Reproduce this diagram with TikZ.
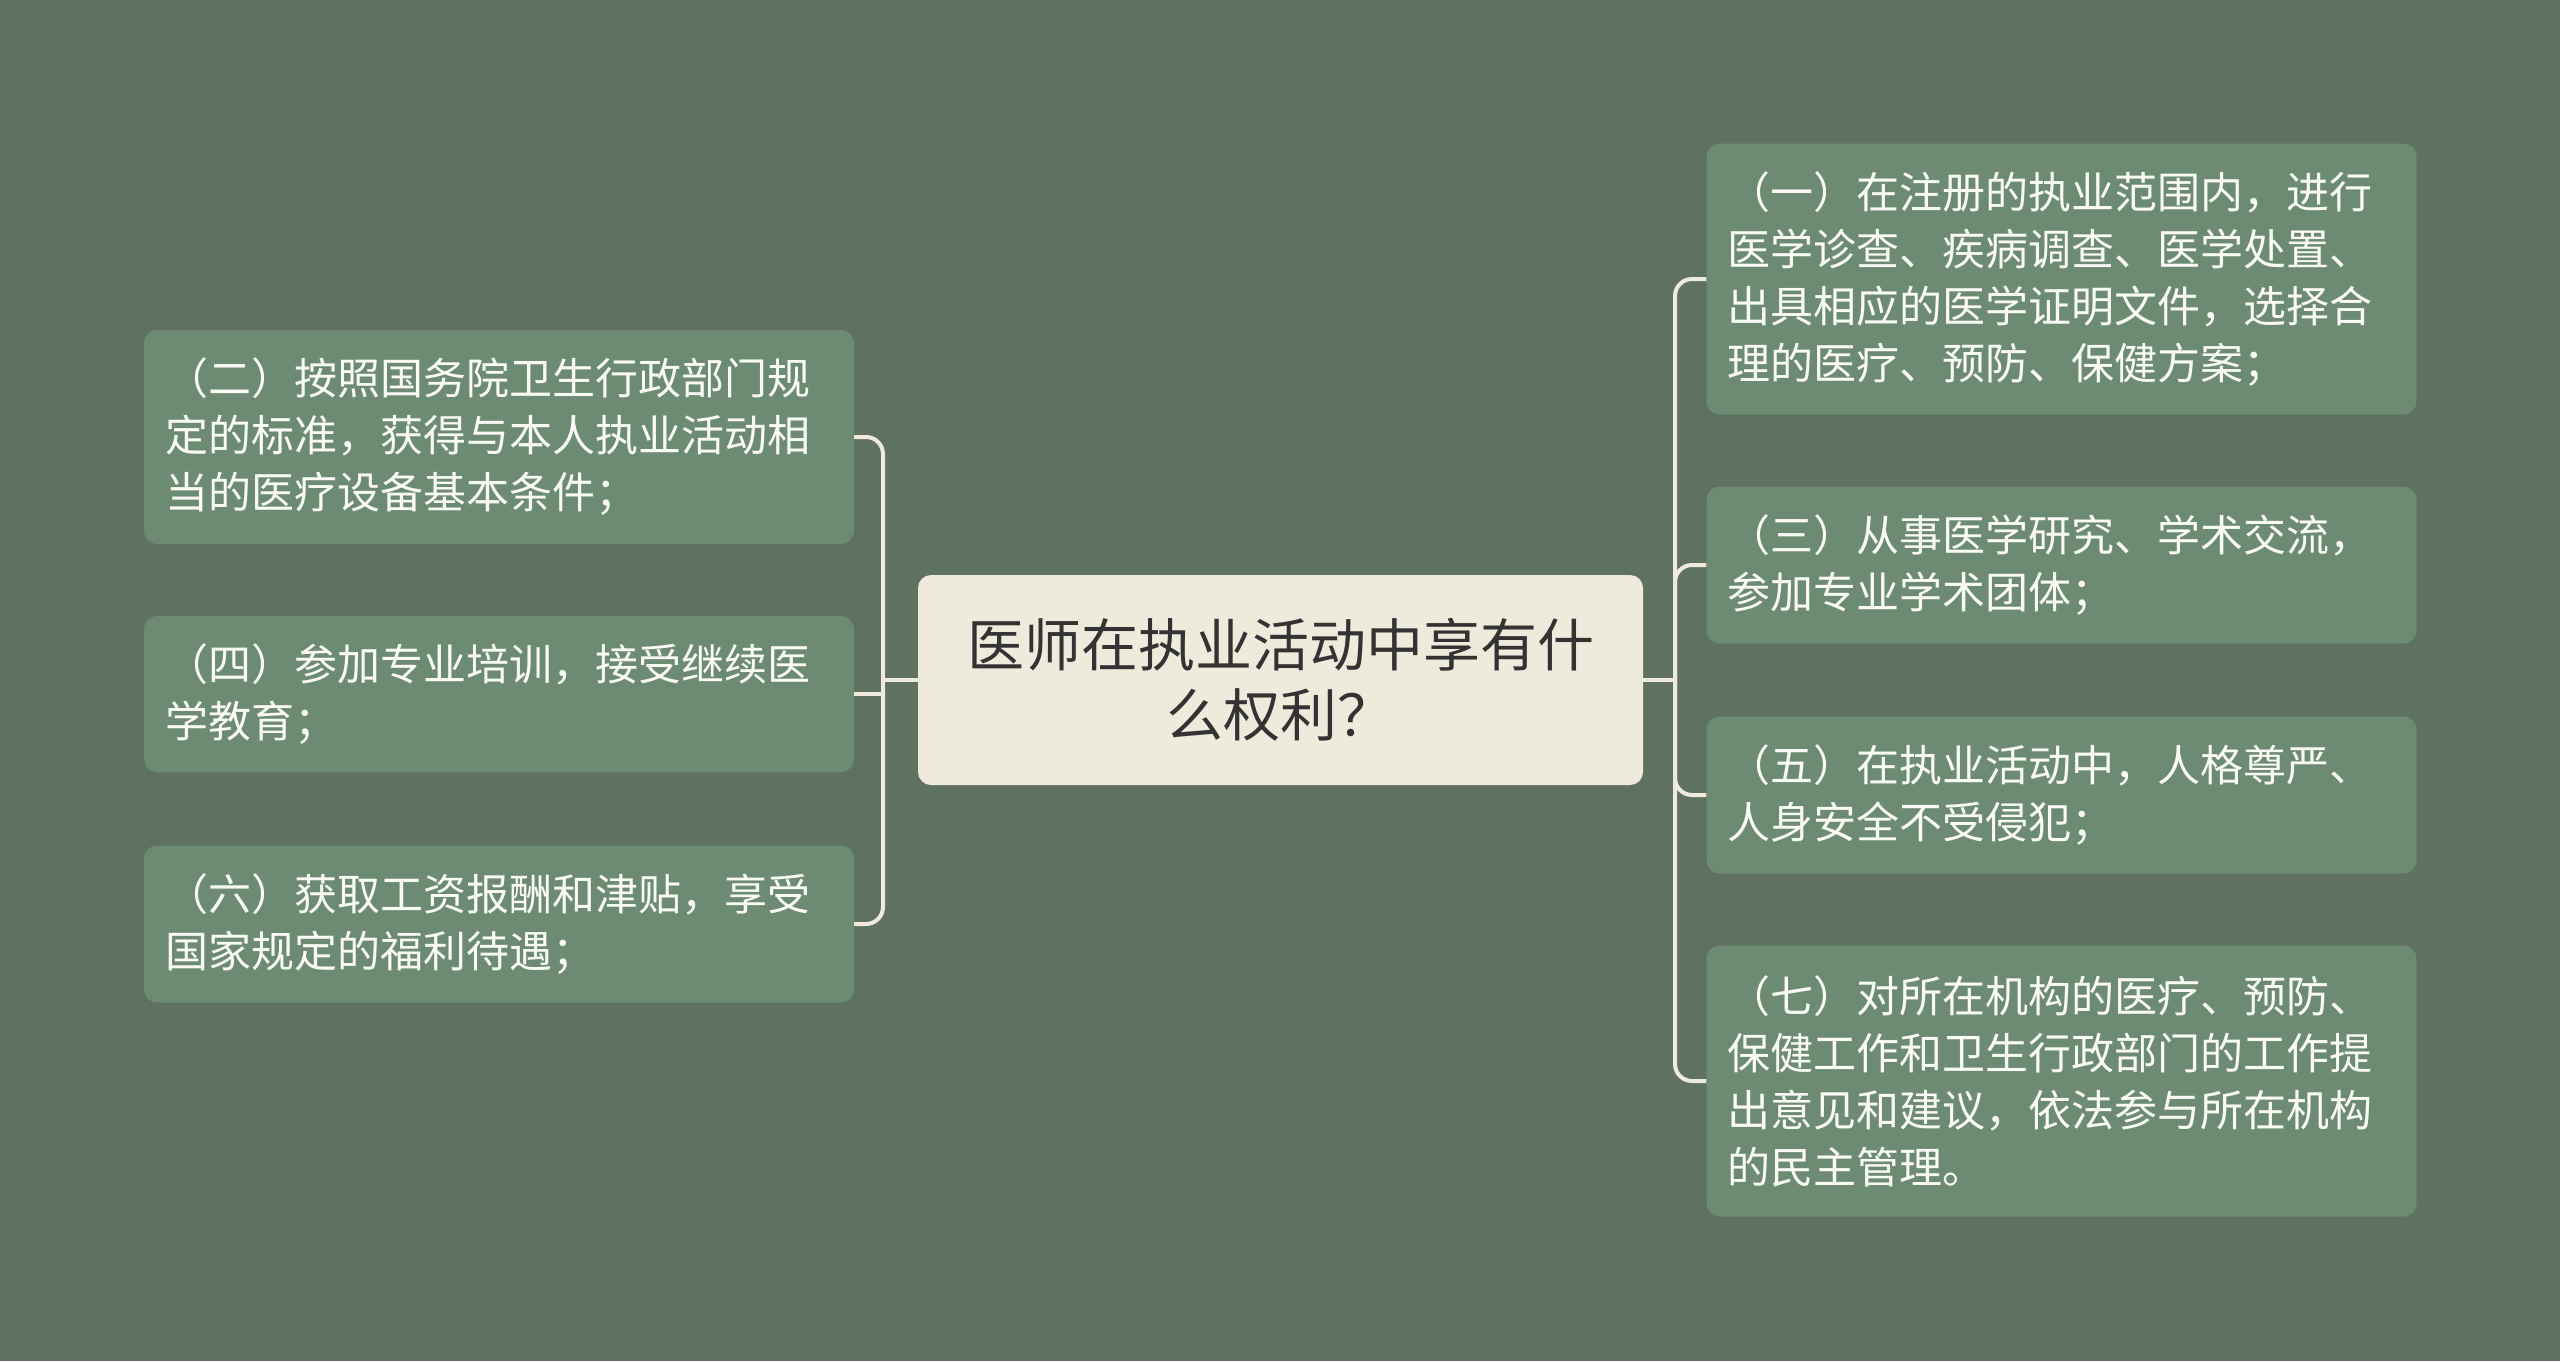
\documentclass[tikz,border=0pt]{standalone}
\usepackage{fontspec}
\newfontfamily\cjk{Noto Sans CJK SC}
\definecolor{bgc}{HTML}{5F7262}
\definecolor{nodec}{HTML}{6C8B72}
\definecolor{centc}{HTML}{EFEBDC}
\definecolor{linec}{HTML}{EFEBDC}
\definecolor{ctext}{HTML}{333333}
\definecolor{ntext}{HTML}{FAFAF5}
\begin{document}
\begin{tikzpicture}[x=1pt,y=-1pt,
  child/.style={rectangle, rounded corners=13pt, fill=nodec, text=ntext,
    minimum width=710pt, text width=668pt, inner xsep=21pt, inner ysep=0pt,
    align=left, font=\cjk\fontsize{43}{57}\selectfont},
  central/.style={rectangle, rounded corners=13pt, fill=centc, text=ctext,
    minimum width=725pt, minimum height=210pt, text width=690pt, align=center,
    inner sep=0pt, font=\cjk\fontsize{57}{70}\selectfont},
  conn/.style={draw=linec, line width=4pt, rounded corners=17pt},
  connsharp/.style={draw=linec, line width=4pt}]
\fill[bgc] (0,0) rectangle (2560,1361);
\useasboundingbox (0,0) rectangle (2560,1361);

\node[central] (c) at (1280.5,680) {医师在执业活动中享有什\\么权利？};

\node[child, minimum height=214pt] (n2) at (499,437) {（二）按照国务院卫生行政部门规\\定的标准，获得与本人执业活动相\\当的医疗设备基本条件；};
\node[child, minimum height=156pt] (n4) at (499,694) {（四）参加专业培训，接受继续医\\学教育；};
\node[child, minimum height=157pt] (n6) at (499,924) {（六）获取工资报酬和津贴，享受\\国家规定的福利待遇；};

\node[child, minimum height=271pt] (n1) at (2061.5,279) {（一）在注册的执业范围内，进行\\医学诊查、疾病调查、医学处置、\\出具相应的医学证明文件，选择合\\理的医疗、预防、保健方案；};
\node[child, minimum height=157pt] (n3) at (2061.5,565) {（三）从事医学研究、学术交流，\\参加专业学术团体；};
\node[child, minimum height=157pt] (n5) at (2061.5,795) {（五）在执业活动中，人格尊严、\\人身安全不受侵犯；};
\node[child, minimum height=271pt] (n7) at (2061.5,1081) {（七）对所在机构的医疗、预防、\\保健工作和卫生行政部门的工作提\\出意见和建议，依法参与所在机构\\的民主管理。};

\coordinate (sl) at (883,0);
\coordinate (sr) at (1675,0);

% left side
\draw[connsharp] (c.west) -- (sl |- c.west);
\draw[conn] (sl |- c.west) -- (sl |- n2.east) -- (n2.east);
\draw[connsharp] (sl |- c.west) -- (sl |- n4.east) -- (n4.east);
\draw[conn] (sl |- c.west) -- (sl |- n6.east) -- (n6.east);
% right side
\draw[connsharp] (c.east) -- (sr |- c.east);
\foreach \n in {n1,n3,n5,n7}{
  \draw[conn] (sr |- c.east) -- (sr |- \n.west) -- (\n.west);
}
\end{tikzpicture}
\end{document}
